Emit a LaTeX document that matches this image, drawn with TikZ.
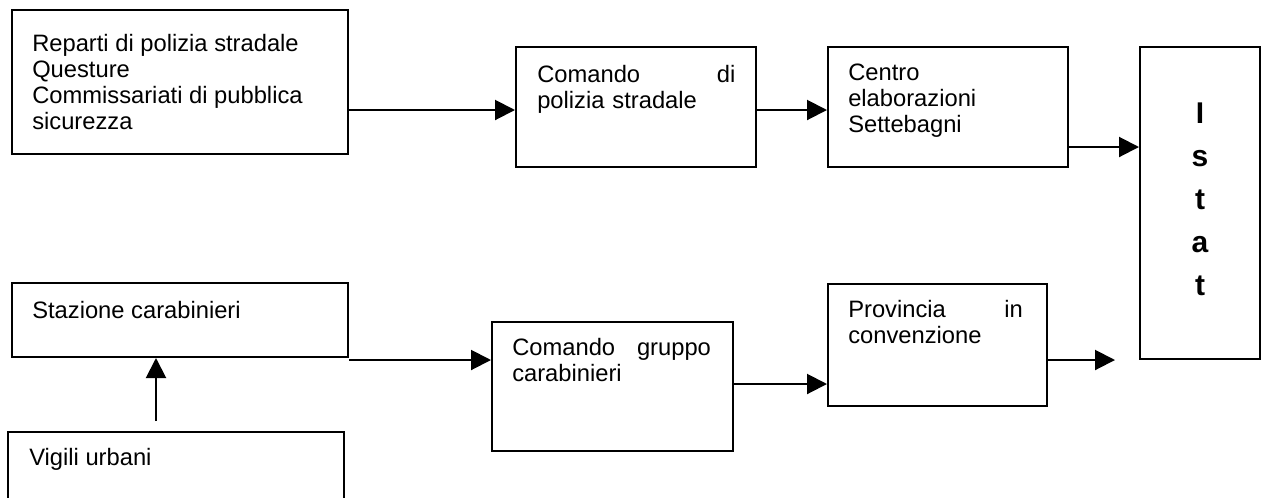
\documentclass[tikz,border=0pt]{standalone}
\usepackage{fontspec}
\setmainfont{Liberation Sans}
\usetikzlibrary{arrows.meta}
\begin{document}
\begin{tikzpicture}[x=0.75pt,y=-0.75pt,
  box/.style={draw,line width=1.5pt,rectangle,inner sep=0pt},
  txt/.style={anchor=north west,inner sep=0pt,align=left,
    font=\fontsize{17.8}{19.5}\selectfont, execute at begin node=\strut},
  jtxt/.style={txt,text width=#1},
  istattxt/.style={anchor=north,inner sep=0pt,align=center,
    font=\fontsize{22.5}{32.25}\selectfont\bfseries, execute at begin node=\strut},
  arr/.style={line width=1.5pt,-{Triangle[length=15pt,width=15pt]}}]
\useasboundingbox (0,0) rectangle (1262,497);
% boxes
\node[box,minimum width=336*0.75pt,minimum height=144*0.75pt] (b1) at (180,82) {};
\node[box,minimum width=240*0.75pt,minimum height=120*0.75pt] (b2) at (636,107) {};
\node[box,minimum width=240*0.75pt,minimum height=120*0.75pt] (b3) at (948,107) {};
\node[box,minimum width=120*0.75pt,minimum height=312*0.75pt] (istat) at (1200,203) {};
\node[box,minimum width=219*0.75pt,minimum height=122*0.75pt] (prov) at (937.5,345) {};
\node[box,minimum width=241*0.75pt,minimum height=129*0.75pt] (cg) at (612.5,386.5) {};
\node[box,minimum width=336*0.75pt,minimum height=74*0.75pt] (staz) at (180,320) {};
\begin{scope}
\clip (0,0) rectangle (1262,497);
\node[box,minimum width=336*0.75pt,minimum height=120*0.75pt] (vig) at (176,492) {};
\end{scope}
% texts
\node[txt] (t1) at (32,34.5) {Reparti di polizia stradale\\Questure\\Commissariati di pubblica\\sicurezza};
\node[jtxt=148.5pt] (t2) at (537,64.5) {Comando\hfill di\\polizia stradale};
\node[txt] (t3) at (848,63.5) {Centro\\elaborazioni\\Settebagni};
\node[istattxt] (t4) at (1200,103) {I\\s\\t\\a\\t};
\node[jtxt=131pt] (t5) at (848,299.5) {Provincia\hfill in\\convenzione};
\node[jtxt=149pt] (t6) at (512,337.5) {Comando\hfill gruppo\\carabinieri};
\node[txt] (t7) at (32,300.5) {Stazione carabinieri};
\node[txt] (t8) at (29,447.5) {Vigili urbani};
% connector levels
\coordinate (y1) at (0,110);
\coordinate (y3) at (0,147);
\coordinate (y4) at (0,360);
\coordinate (y6) at (0,384);
\coordinate (x5) at (156,421);
\coordinate (fe) at (1115,360);
% connectors
\draw[arr] (b1.east |- y1) -- (b2.west |- y1);
\draw[arr] (b2.east |- y1) -- (b3.west |- y1);
\draw[arr] (b3.east |- y3) -- (istat.west |- y3);
\draw[arr] (staz.east |- y4) -- (cg.west |- y4);
\draw[arr] (x5) -- (x5 |- staz.south);
\draw[arr] (cg.east |- y6) -- (prov.west |- y6);
\draw[arr] (prov.east |- fe) -- (fe);
\end{tikzpicture}
\end{document}
